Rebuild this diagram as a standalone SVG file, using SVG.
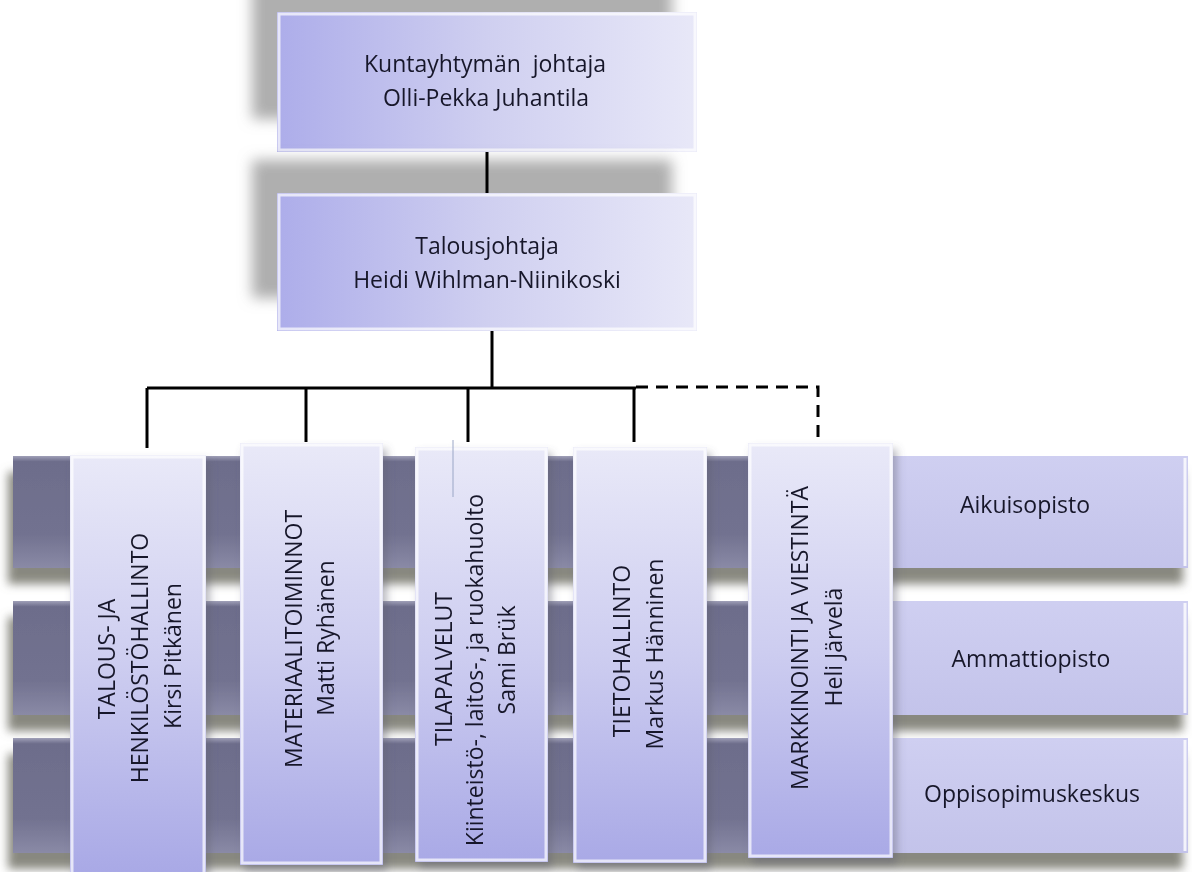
<svg xmlns="http://www.w3.org/2000/svg" width="1192" height="872" viewBox="0 0 1192 872">
<defs>
<linearGradient id="gTop" x1="0" y1="0" x2="1" y2="0">
<stop offset="0" stop-color="#adadea"/>
<stop offset="0.5" stop-color="#cfcff0"/>
<stop offset="1" stop-color="#e8e8f8"/>
</linearGradient>
<linearGradient id="gVert" x1="0" y1="0" x2="0" y2="1">
<stop offset="0" stop-color="#e9e9f8"/>
<stop offset="0.5" stop-color="#cdcdf0"/>
<stop offset="1" stop-color="#a9a9e6"/>
</linearGradient>
<linearGradient id="gDark" x1="0" y1="0" x2="0" y2="1">
<stop offset="0" stop-color="#a0a0b8"/>
<stop offset="0.05" stop-color="#6d6d8b"/>
<stop offset="0.7" stop-color="#727290"/>
<stop offset="1" stop-color="#8a8aa6"/>
</linearGradient>
<linearGradient id="gLight" x1="0" y1="0" x2="0" y2="1">
<stop offset="0" stop-color="#cfcff1"/>
<stop offset="1" stop-color="#c3c3ea"/>
</linearGradient>
<filter id="fTop" x="-20%" y="-50%" width="140%" height="200%">
<feGaussianBlur in="SourceAlpha" stdDeviation="7"/>
<feOffset dx="-25" dy="-33" result="b"/>
<feFlood flood-color="#8c8c8c" flood-opacity="0.7"/>
<feComposite in2="b" operator="in" result="s"/>
<feMerge><feMergeNode in="s"/><feMergeNode in="SourceGraphic"/></feMerge>
</filter>
<filter id="fBar" x="-5%" y="-30%" width="110%" height="170%">
<feGaussianBlur in="SourceAlpha" stdDeviation="5"/>
<feOffset dx="-5" dy="16" result="b"/>
<feFlood flood-color="#7c7c72" flood-opacity="0.9"/>
<feComposite in2="b" operator="in" result="s"/>
<feMerge><feMergeNode in="s"/><feMergeNode in="SourceGraphic"/></feMerge>
</filter>
<filter id="fVert" x="-20%" y="-10%" width="140%" height="120%">
<feGaussianBlur in="SourceAlpha" stdDeviation="4"/>
<feOffset dx="4" dy="6" result="b"/>
<feFlood flood-color="#606070" flood-opacity="0.45"/>
<feComposite in2="b" operator="in" result="s"/>
<feMerge><feMergeNode in="s"/><feMergeNode in="SourceGraphic"/></feMerge>
</filter>
</defs>
<style>
text{font-family:"Open Sans","Liberation Sans",sans-serif;font-size:23px;fill:#18182a;white-space:pre;}
.c{text-anchor:middle;}
.bevel{fill:none;stroke:#ffffff;stroke-opacity:0.7;stroke-width:3;}
.conn{fill:none;stroke:#000;stroke-width:3;}
.dash{stroke-dasharray:12 8;}
</style>
<rect width="1192" height="872" fill="#ffffff"/>

<g id="bar-aikuisopisto" filter="url(#fBar)">
<rect x="13" y="456" width="880" height="112" fill="url(#gDark)"/>
<rect x="890" y="456" width="298" height="112" fill="url(#gLight)"/>
<line x1="1185" y1="458" x2="1185" y2="566" stroke="#fff" stroke-width="3" stroke-opacity="0.8"/>
<text class="c" x="1025" y="513">Aikuisopisto</text>
</g>
<g id="bar-ammattiopisto" filter="url(#fBar)">
<rect x="13" y="601" width="880" height="114" fill="url(#gDark)"/>
<rect x="890" y="601" width="298" height="114" fill="url(#gLight)"/>
<line x1="1185" y1="603" x2="1185" y2="713" stroke="#fff" stroke-width="3" stroke-opacity="0.8"/>
<text class="c" x="1031" y="667">Ammattiopisto</text>
</g>
<g id="bar-oppisopimuskeskus" filter="url(#fBar)">
<rect x="13" y="738" width="880" height="115" fill="url(#gDark)"/>
<rect x="890" y="738" width="298" height="115" fill="url(#gLight)"/>
<line x1="1185" y1="740" x2="1185" y2="851" stroke="#fff" stroke-width="3" stroke-opacity="0.8"/>
<text class="c" x="1032" y="802">Oppisopimuskeskus</text>
</g>

<g id="node-talous" filter="url(#fVert)">
<rect x="70" y="455" width="136" height="417" fill="url(#gVert)"/>
<rect class="bevel" x="72" y="457" width="132" height="420"/>
<text class="c" transform="translate(115,659) rotate(-90)">TALOUS- JA</text>
<text class="c" transform="translate(148,658) rotate(-90)">HENKILÖSTÖHALLINTO</text>
<text class="c" transform="translate(181,656) rotate(-90)">Kirsi Pitkänen</text>
</g>
<g id="node-materiaali" filter="url(#fVert)">
<rect x="240" y="443" width="143" height="422" fill="url(#gVert)"/>
<rect class="bevel" x="242" y="445" width="139" height="418"/>
<text class="c" transform="translate(302,639) rotate(-90)">MATERIAALITOIMINNOT</text>
<text class="c" transform="translate(334,638) rotate(-90)">Matti Ryhänen</text>
</g>
<g id="node-tilapalvelut" filter="url(#fVert)">
<rect x="415" y="447" width="133" height="415" fill="url(#gVert)"/>
<rect class="bevel" x="417" y="449" width="129" height="411"/>
<line x1="453" y1="440" x2="453" y2="497" stroke="#9aa6c6" stroke-width="1"/>
<text class="c" transform="translate(452,669) rotate(-90)">TILAPALVELUT</text>
<text class="c" transform="translate(483,670) rotate(-90)">Kiinteistö-, laitos-, ja ruokahuolto</text>
<text class="c" transform="translate(515,660) rotate(-90)">Sami Brük</text>
</g>
<g id="node-tietohallinto" filter="url(#fVert)">
<rect x="573" y="447" width="134" height="416" fill="url(#gVert)"/>
<rect class="bevel" x="575" y="449" width="130" height="412"/>
<text class="c" transform="translate(630,651) rotate(-90)">TIETOHALLINTO</text>
<text class="c" transform="translate(663,654) rotate(-90)">Markus Hänninen</text>
</g>
<g id="node-markkinointi" filter="url(#fVert)">
<rect x="748" y="443" width="145" height="415" fill="url(#gVert)"/>
<rect class="bevel" x="750" y="445" width="141" height="411"/>
<text class="c" transform="translate(808,638) rotate(-90)">MARKKINOINTI JA VIESTINTÄ</text>
<text class="c" transform="translate(842,647) rotate(-90)">Heli Järvelä</text>
</g>

<g id="node-johtaja" filter="url(#fTop)">
<rect x="277" y="12" width="420" height="140" fill="url(#gTop)"/>
<rect class="bevel" x="279" y="14" width="416" height="136"/>
<text class="c" x="485" y="72">Kuntayhtymän  johtaja</text>
<text class="c" x="486" y="106">Olli-Pekka Juhantila</text>
</g>
<g id="node-talousjohtaja" filter="url(#fTop)">
<rect x="277" y="193" width="420" height="138" fill="url(#gTop)"/>
<rect class="bevel" x="279" y="195" width="416" height="134"/>
<text class="c" x="487" y="254">Talousjohtaja</text>
<text class="c" x="487" y="288">Heidi Wihlman-Niinikoski</text>
</g>

<g id="connectors">
<path class="conn" d="M487 152 V193"/>
<path class="conn" d="M492 331 V389"/>
<path class="conn" d="M147 388 H636"/>
<path class="conn" d="M147 388 V448"/>
<path class="conn" d="M306 388 V442"/>
<path class="conn" d="M468 388 V442"/>
<path class="conn" d="M634 388 V442"/>
<path class="conn dash" d="M636 387 H818 V438"/>
</g>
</svg>
